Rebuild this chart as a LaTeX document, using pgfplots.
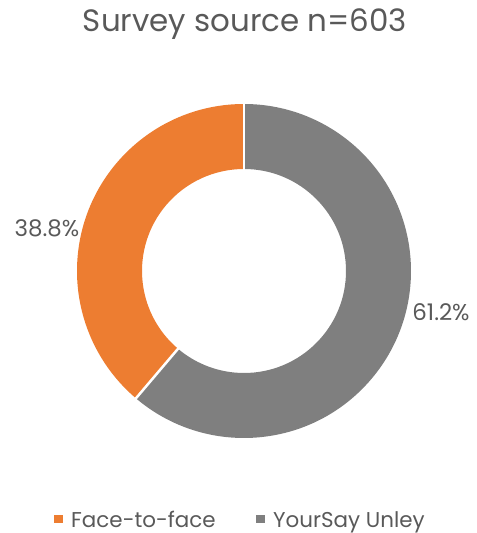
\documentclass[border=0pt]{standalone}
\usepackage{pgfplots}
\usepackage{pgfplotstable}
\pgfplotsset{compat=1.18}
\usepackage{fontspec}
\setmainfont{Poppins}
\definecolor{orng}{HTML}{ED7D31}
\definecolor{gry}{HTML}{7F7F7F}
\definecolor{txt}{HTML}{595959}
\pgfplotstableread{
label value
Face-to-face 38.8
YourSay 61.2
}\data
\begin{document}
\begin{tikzpicture}
\pgfplotstablegetelem{0}{value}\of\data \let\va\pgfplotsretval
\pgfplotstablegetelem{1}{value}\of\data \let\vb\pgfplotsretval
\pgfmathsetmacro\aa{90+3.6*\va}
\pgfmathsetmacro\ab{\aa+3.6*\vb}
\begin{axis}[hide axis, scale only axis, width=477bp, height=533bp,
  xmin=0, xmax=477, ymin=0, ymax=533, clip=false, at={(0,0)}, anchor=south west]
\fill[orng] ([shift={(90:167bp)}]axis cs:244,262) arc[start angle=90, end angle=\aa, radius=167bp]
  -- ([shift={(\aa:102bp)}]axis cs:244,262) arc[start angle=\aa, end angle=90, radius=102bp] -- cycle;
\fill[gry] ([shift={(\aa:167bp)}]axis cs:244,262) arc[start angle=\aa, end angle=\ab, radius=167bp]
  -- ([shift={(\ab:102bp)}]axis cs:244,262) arc[start angle=\ab, end angle=\aa, radius=102bp] -- cycle;
\draw[white, line width=2.5bp] ([shift={(90:98bp)}]axis cs:244,262) -- ([shift={(90:171bp)}]axis cs:244,262);
\draw[white, line width=2.5bp] ([shift={(\aa:98bp)}]axis cs:244,262) -- ([shift={(\aa:171bp)}]axis cs:244,262);
\node[txt, font=\fontsize{31}{34}\selectfont] at (axis cs:245,509) {Survey source n=603};
\node[txt, font=\fontsize{23}{26}\selectfont] at (axis cs:47,305) {38.8\%};
\node[txt, font=\fontsize{23}{26}\selectfont] at (axis cs:441,221) {61.2\%};
\fill[orng] (axis cs:54,10) rectangle (axis cs:63,18);
\node[txt, anchor=base west, inner sep=0pt, font=\fontsize{21.5}{24}\selectfont] at (axis cs:71,6) {Face-to-face};
\fill[gry] (axis cs:256,10) rectangle (axis cs:265,18);
\node[txt, anchor=base west, inner sep=0pt, font=\fontsize{21.5}{24}\selectfont] at (axis cs:273,6) {YourSay Unley};
\end{axis}
\pgfresetboundingbox
\path[use as bounding box] (0,0) rectangle (477bp,533bp);
\end{tikzpicture}
\end{document}
